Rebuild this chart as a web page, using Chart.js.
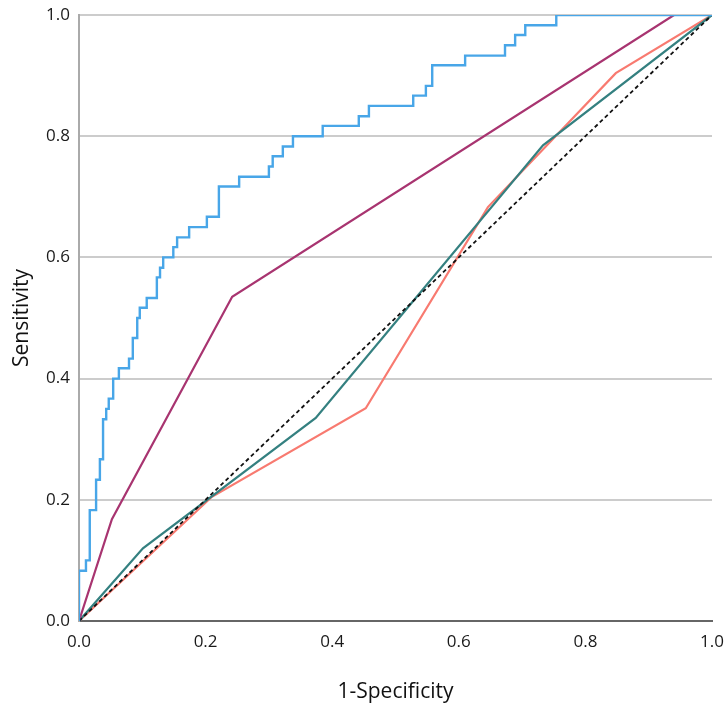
<!DOCTYPE html>
<html>
<head>
<meta charset="utf-8">
<script src="https://cdn.jsdelivr.net/npm/chart.js@4.4.1/dist/chart.umd.min.js"></script>
<style>
  html, body { margin: 0; padding: 0; background: #fff; }
  #wrap { width: 726px; height: 706px; position: relative; }
</style>
</head>
<body>
<div id="wrap"><canvas id="roc"></canvas></div>
<script>
/* ── Data ──────────────────────────────────────────────────────────── */
const tickValues = [0, 0.2, 0.4, 0.6, 0.8, 1.0];

// stepped empirical ROC (blue)
const blueFpr = [0, 0, 0.011, 0.017, 0.027, 0.033, 0.038, 0.043, 0.047, 0.054,
  0.063, 0.079, 0.085, 0.092, 0.096, 0.107, 0.123, 0.128, 0.133, 0.149,
  0.155, 0.174, 0.202, 0.221, 0.253, 0.300, 0.306, 0.322, 0.338, 0.385,
  0.442, 0.458, 0.528, 0.548, 0.558, 0.610, 0.673, 0.689, 0.705, 0.754, 1.0];
const blueTpr = [0, 0.083, 0.100, 0.183, 0.233, 0.267, 0.333, 0.350, 0.367, 0.400,
  0.417, 0.433, 0.467, 0.500, 0.517, 0.533, 0.567, 0.583, 0.600, 0.617,
  0.633, 0.650, 0.667, 0.717, 0.733, 0.750, 0.767, 0.783, 0.800, 0.817,
  0.833, 0.850, 0.867, 0.883, 0.917, 0.933, 0.950, 0.967, 0.983, 1.0, 1.0];

const purpleFpr = [0, 0.052, 0.242, 0.940, 1.0];
const purpleTpr = [0, 0.168, 0.535, 1.0, 1.0];

const tealFpr = [0, 0.101, 0.374, 0.733, 1.0];
const tealTpr = [0, 0.120, 0.335, 0.785, 1.0];

const salmonFpr = [0, 0.210, 0.453, 0.646, 0.848, 1.0];
const salmonTpr = [0, 0.205, 0.351, 0.683, 0.904, 1.0];

const refFpr = [0, 1.0];
const refTpr = [0, 1.0];

/* ── Helpers ───────────────────────────────────────────────────────── */
const FONT = '"Open Sans", "Noto Sans", "DejaVu Sans", sans-serif';
const pts = (xs, ys) => xs.map((x, i) => ({ x, y: ys[i] }));

function line(data, color, extra) {
  return Object.assign({
    data,
    borderColor: color,
    borderWidth: 2.2,
    pointRadius: 0,
    showLine: true,
    tension: 0,
    fill: false,
  }, extra || {});
}

/* ── Chart ─────────────────────────────────────────────────────────── */
new Chart(document.getElementById('roc'), {
  type: 'scatter',
  data: {
    datasets: [
      line(pts(blueFpr, blueTpr), 'rgb(72, 166, 232)', { stepped: 'before', borderWidth: 2.4, order: 1 }),
      line(pts(refFpr, refTpr), '#111', { borderDash: [4, 3], borderWidth: 1.8, order: 2 }),
      line(pts(purpleFpr, purpleTpr), 'rgb(168, 52, 112)', { order: 3 }),
      line(pts(tealFpr, tealTpr), 'rgb(52, 128, 128)', { order: 4 }),
      line(pts(salmonFpr, salmonTpr), 'rgb(248, 122, 112)', { order: 5 }),
    ],
  },
  options: {
    responsive: true,
    maintainAspectRatio: false,
    animation: false,
    devicePixelRatio: 1,
    layout: { padding: { top: 15, right: 14, bottom: 0, left: 0 } },
    plugins: {
      legend: { display: false },
      tooltip: { enabled: false },
    },
    scales: {
      x: {
        type: 'linear',
        min: 0, max: 1,
        afterBuildTicks: s => { s.ticks = tickValues.map(v => ({ value: v })); },
        afterFit: s => { s.height = 85; s.paddingLeft = 0; s.paddingRight = 0; },
        grid: { color: 'rgba(0,0,0,0)', drawTicks: false },
        border: { color: '#666', width: 2 },
        ticks: {
          color: '#1a1a1a',
          font: { family: FONT, size: 17 },
          padding: 11,
          maxRotation: 0,
          callback: v => Number(v).toFixed(1),
        },
        title: {
          display: true,
          text: '1-Specificity',
          color: '#111',
          font: { family: FONT, size: 21 },
          padding: { top: 4, bottom: 1 },
        },
      },
      y: {
        type: 'linear',
        min: 0, max: 1,
        afterBuildTicks: s => { s.ticks = tickValues.map(v => ({ value: v })); },
        afterFit: s => { s.width = 79; s.paddingTop = 0; s.paddingBottom = 0; },
        grid: { color: '#cccccc', lineWidth: 2, drawTicks: false },
        border: { color: '#aaaaaa', width: 2 },
        ticks: {
          color: '#1a1a1a',
          font: { family: FONT, size: 17 },
          padding: 9,
          callback: v => Number(v).toFixed(1),
        },
        title: {
          display: true,
          text: 'Sensitivity',
          color: '#111',
          font: { family: FONT, size: 21 },
          padding: { top: 9, bottom: 2 },
        },
      },
    },
  },
});
</script>
</body>
</html>
